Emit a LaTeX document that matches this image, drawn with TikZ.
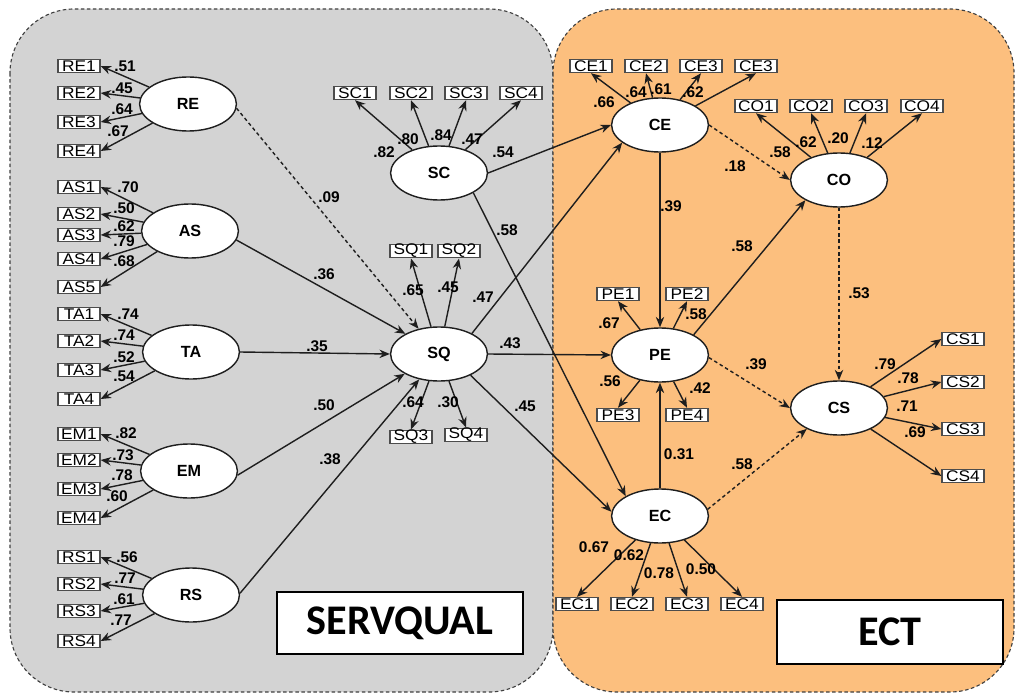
\documentclass[tikz,border=0pt]{standalone}
\usepackage{fontspec}
\setmainfont{Liberation Sans}
\newfontfamily\indicatorfont[FakeStretch=1.12]{Liberation Sans}
\newfontfamily\tagfont{Carlito}
\usepackage{tikz}
\usetikzlibrary{shapes.geometric, arrows.meta, positioning}
\definecolor{ServGray}{HTML}{D3D3D3}
\definecolor{EctOrange}{HTML}{FCBF7E}
\definecolor{LineGray}{HTML}{1E1E1E}

\tikzset{
    latent/.style={ellipse, draw=LineGray, line width=1pt, fill=white, minimum width=2.42cm, minimum height=1.35cm, inner sep=0pt, font=\fontsize{11.5}{12}\selectfont\bfseries},
    ind/.style={rectangle, draw=black!70, line width=0.9pt, fill=white, minimum width=1.05cm, minimum height=0.33cm, inner sep=0pt, font=\indicatorfont\fontsize{11}{11}\selectfont},
    coef/.style={inner sep=0pt, font=\fontsize{11}{11}\selectfont\bfseries},
    link/.style={draw=LineGray, line width=1pt, -{Stealth[length=2.6mm, width=2.1mm]}},
    dlink/.style={link, dash pattern=on 2.5pt off 2pt},
    region/.style={draw=black!75, line width=0.8pt, dash pattern=on 2.5pt off 1.8pt, rounded corners=1.6cm},
    tagbox/.style={rectangle, draw=black, line width=1.4pt, fill=white, inner sep=0pt, font=\tagfont\fontsize{30}{30}\selectfont\bfseries}
}

\begin{document}
\begin{tikzpicture}[x=0.025cm, y=-0.025cm]
    \useasboundingbox (0,0) rectangle (1016,695);

    % Background regions
    \draw[region, fill=ServGray] (10,9) rectangle (553,692);
    \draw[region, fill=EctOrange] (553,9) rectangle (1014,692);

    % Model names
    \node[tagbox, minimum width=6.15cm, minimum height=1.55cm] (servqual) at (400,623) {SERVQUAL};
    \node[tagbox, minimum width=5.63cm, minimum height=1.58cm] (ect) at (890,632) {ECT};

    % Latent variables
    \node[latent] (RE) at (188,104) {RE};
    \node[latent] (AS) at (190,231) {AS};
    \node[latent] (TA) at (191,352) {TA};
    \node[latent] (EM) at (189,471) {EM};
    \node[latent] (RS) at (191,595) {RS};
    \node[latent] (SC) at (439,173) {SC};
    \node[latent] (SQ) at (439,354) {SQ};
    \node[latent] (CE) at (660,125) {CE};
    \node[latent] (PE) at (660,355) {PE};
    \node[latent] (EC) at (660,516) {EC};
    \node[latent] (CO) at (839,180) {CO};
    \node[latent] (CS) at (839,408) {CS};

    % SERVQUAL dimensions, indicators on the left
    \foreach \i/\y/\lx/\ly/\v in {1/66/125/66/.51, 2/93/122/88/.45, 3/122/122/109/.64, 4/151/118/131/.67} {
        \node[ind] (RE\i) at (79,\y) {RE\i};
        \draw[link] (RE) -- (RE\i.east);
        \node[coef] (cRE\i) at (\lx,\ly) {\v};
    }
    \foreach \i/\y/\lx/\ly/\v in {1/187/128/187/.70, 2/214/124/208/.50, 3/235/124/226/.62, 4/259/124/241/.79, 5/287/124/261/.68} {
        \node[ind] (AS\i) at (79,\y) {AS\i};
        \draw[link] (AS) -- (AS\i.east);
        \node[coef] (cAS\i) at (\lx,\ly) {\v};
    }
    \foreach \i/\y/\lx/\ly/\v in {1/314/128/314/.74, 2/341/124/335/.74, 3/370/124/357/.52, 4/399/124/376/.54} {
        \node[ind] (TA\i) at (79,\y) {TA\i};
        \draw[link] (TA) -- (TA\i.east);
        \node[coef] (cTA\i) at (\lx,\ly) {\v};
    }
    \foreach \i/\y/\lx/\ly/\v in {1/434/126/433/.82, 2/460/123/455/.73, 3/489/122/475/.78, 4/518/117/496/.60} {
        \node[ind] (EM\i) at (79,\y) {EM\i};
        \draw[link] (EM) -- (EM\i.east);
        \node[coef] (cEM\i) at (\lx,\ly) {\v};
    }
    \foreach \i/\y/\lx/\ly/\v in {1/557/127/557/.56, 2/584/125/578/.77, 3/611/124/599/.61, 4/641/121/620/.77} {
        \node[ind] (RS\i) at (79,\y) {RS\i};
        \draw[link] (RS) -- (RS\i.east);
        \node[coef] (cRS\i) at (\lx,\ly) {\v};
    }

    % SC and SQ indicators
    \foreach \i/\x/\lx/\ly/\v in {1/355/384/152/.82, 2/411/408/139/.80, 3/466/441/135/.84, 4/521/472/139/.47} {
        \node[ind] (SC\i) at (\x,93) {SC\i};
        \draw[link] (SC) -- (SC\i.south);
        \node[coef] (cSC\i) at (\lx,\ly) {\v};
    }
    \foreach \i/\x/\y/\a/\lx/\ly/\v in {1/411/251/south/413/290/.65, 2/459/251/south/448/287/.45, 3/411/437/north/413/402/.64, 4/466/435/north/448/402/.30} {
        \node[ind] (SQ\i) at (\x,\y) {SQ\i};
        \draw[link] (SQ) -- (SQ\i.\a);
        \node[coef] (cSQ\i) at (\lx,\ly) {\v};
    }

    % ECT indicators
    \foreach \i/\t/\x/\lx/\ly/\v in {1/CE1/591/604/102/.66, 2/CE2/646/636/92/.64, 3/CE3/701/661/89/.61, 4/CE3/756/693/92/.62} {
        \node[ind] (CE\i) at (\x,66) {\t};
        \draw[link] (CE) -- (CE\i.south);
        \node[coef] (cCE\i) at (\lx,\ly) {\v};
    }
    \foreach \i/\x/\lx/\ly/\v in {1/756/780/152/.58, 2/811/806/142/.62, 3/866/838/138/.20, 4/922/872/143/.12} {
        \node[ind] (CO\i) at (\x,106) {CO\i};
        \draw[link] (CO) -- (CO\i.south);
        \node[coef] (cCO\i) at (\lx,\ly) {\v};
    }
    \foreach \i/\x/\y/\a/\lx/\ly/\v in {1/618/294/south/609/323/.67, 2/687/294/south/696/314/.58, 3/618/415/north/610/381/.56, 4/687/415/north/700/388/.42} {
        \node[ind] (PE\i) at (\x,\y) {PE\i};
        \draw[link] (PE) -- (PE\i.\a);
        \node[coef] (cPE\i) at (\lx,\ly) {\v};
    }
    \foreach \i/\x/\lx/\ly/\v in {1/577/594/547/0.67, 2/632/629/555/0.62, 3/687/659/573/0.78, 4/742/701/569/0.50} {
        \node[ind] (EC\i) at (\x,604) {EC\i};
        \draw[link] (EC) -- (EC\i.north);
        \node[coef] (cEC\i) at (\lx,\ly) {\v};
    }
    \foreach \i/\y/\lx/\ly/\v in {1/339/885/364/.79, 2/382/908/378/.78, 3/429/907/406/.71, 4/476/915/432/.69} {
        \node[ind] (CS\i) at (963,\y) {CS\i};
        \draw[link] (CS) -- (CS\i.west);
        \node[coef] (cCS\i) at (\lx,\ly) {\v};
    }

    % Structural paths
    \draw[dlink] (RE.-5) -- (SQ.129);
    \draw[link] (AS.-11) -- (SQ.149);
    \draw[link] (TA.east) -- (SQ.west);
    \draw[link] (EM.-5) -- (SQ.210);
    \draw[link] (RS.2) -- (SQ.232);
    \draw[link] (SC.east) -- (CE.west);
    \draw[link] (SC.-30) -- (EC.150);
    \draw[link] (SQ.32) -- (CE.205);
    \draw[link] (SQ.east) -- (PE.west);
    \draw[link] (SQ.-34) -- (EC.175);
    \draw[link] (CE.south) -- (PE.north);
    \draw[dlink] (CE.east) -- (CO.west);
    \draw[link] (PE.31) -- (CO.211);
    \draw[dlink] (CO.south) -- (CS.north);
    \draw[dlink] (PE.-3) -- (CS.west);
    \draw[link] (EC.north) -- (PE.south);
    \draw[dlink] (EC.8) -- (CS.213);

    % Path coefficients
    \node[coef] (cRESQ) at (329,197) {.09};
    \node[coef] (cASSQ) at (324,274) {.36};
    \node[coef] (cTASQ) at (317,346) {.35};
    \node[coef] (cEMSQ) at (324,405) {.50};
    \node[coef] (cRSSQ) at (330,459) {.38};
    \node[coef] (cSCCE) at (503,152) {.54};
    \node[coef] (cSCEC) at (507,230) {.58};
    \node[coef] (cSQCE) at (483,297) {.47};
    \node[coef] (cSQPE) at (510,343) {.43};
    \node[coef] (cSQEC) at (525,406) {.45};
    \node[coef] (cCEPE) at (671,206) {.39};
    \node[coef] (cCECO) at (735,166) {.18};
    \node[coef] (cPECO) at (742,246) {.58};
    \node[coef] (cCOCS) at (859,293) {.53};
    \node[coef] (cPECS) at (756,364) {.39};
    \node[coef] (cECPE) at (679,454) {0.31};
    \node[coef] (cECCS) at (742,464) {.58};
\end{tikzpicture}
\end{document}
